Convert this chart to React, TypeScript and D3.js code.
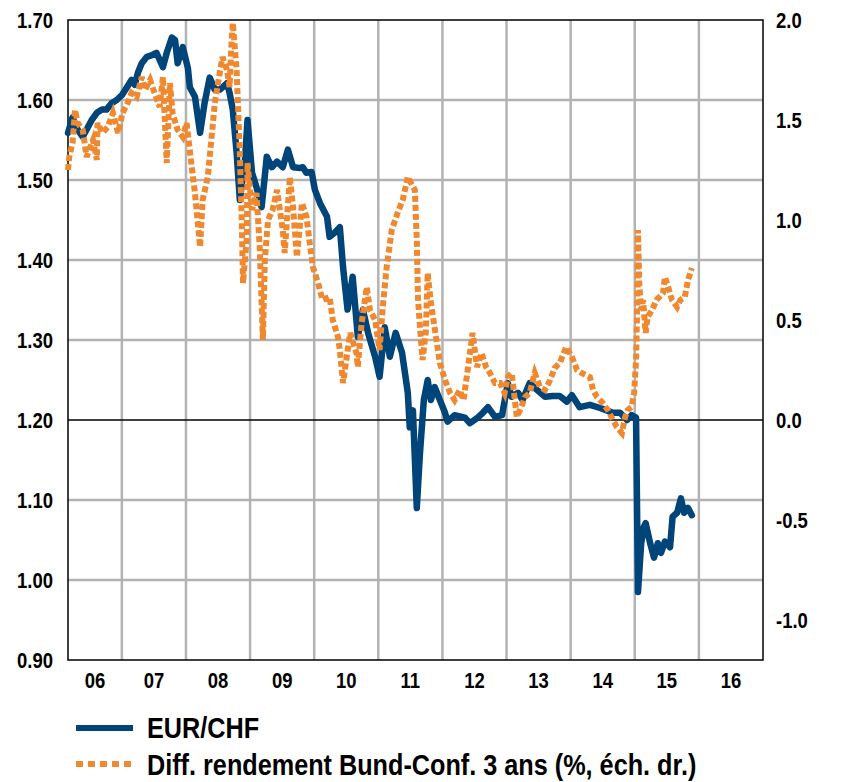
import * as d3 from 'd3';
import React, { useRef, useEffect } from 'react';

// EUR/CHF (left axis), time in decimal years
const chfTime = [2006.16, 2006.23, 2006.31, 2006.39, 2006.47, 2006.53, 2006.61, 2006.69, 2006.76, 2006.84, 2006.92, 2007.0, 2007.08, 2007.15, 2007.2, 2007.25, 2007.31, 2007.39, 2007.47, 2007.54, 2007.59, 2007.64, 2007.7, 2007.78, 2007.83, 2007.87, 2007.95, 2008.03, 2008.06, 2008.14, 2008.22, 2008.29, 2008.37, 2008.45, 2008.53, 2008.64, 2008.68, 2008.73, 2008.79, 2008.84, 2008.92, 2008.96, 2009.03, 2009.1, 2009.18, 2009.26, 2009.34, 2009.42, 2009.51, 2009.59, 2009.67, 2009.78, 2009.82, 2009.88, 2009.96, 2010.01, 2010.09, 2010.2, 2010.24, 2010.32, 2010.4, 2010.45, 2010.52, 2010.6, 2010.68, 2010.76, 2010.84, 2010.95, 2011.02, 2011.1, 2011.18, 2011.27, 2011.37, 2011.46, 2011.49, 2011.54, 2011.6, 2011.65, 2011.71, 2011.77, 2011.82, 2011.88, 2011.96, 2012.04, 2012.08, 2012.19, 2012.35, 2012.43, 2012.55, 2012.63, 2012.71, 2012.82, 2012.93, 2013.02, 2013.08, 2013.18, 2013.25, 2013.36, 2013.47, 2013.6, 2013.72, 2013.83, 2013.94, 2014.02, 2014.14, 2014.3, 2014.46, 2014.56, 2014.66, 2014.77, 2014.88, 2014.95, 2015.02, 2015.05, 2015.1, 2015.14, 2015.17, 2015.24, 2015.3, 2015.36, 2015.41, 2015.47, 2015.55, 2015.59, 2015.66, 2015.72, 2015.77, 2015.83, 2015.89];
const chfValue = [1.559, 1.578, 1.563, 1.554, 1.566, 1.575, 1.584, 1.588, 1.588, 1.596, 1.6, 1.606, 1.616, 1.625, 1.619, 1.634, 1.646, 1.654, 1.656, 1.659, 1.65, 1.641, 1.659, 1.678, 1.675, 1.646, 1.666, 1.64, 1.616, 1.604, 1.559, 1.596, 1.628, 1.613, 1.613, 1.621, 1.609, 1.588, 1.534, 1.475, 1.525, 1.575, 1.509, 1.491, 1.466, 1.529, 1.516, 1.523, 1.516, 1.538, 1.516, 1.515, 1.516, 1.509, 1.51, 1.488, 1.471, 1.454, 1.429, 1.434, 1.441, 1.391, 1.338, 1.379, 1.304, 1.338, 1.309, 1.279, 1.254, 1.316, 1.279, 1.309, 1.284, 1.234, 1.191, 1.212, 1.09, 1.159, 1.225, 1.25, 1.225, 1.241, 1.225, 1.209, 1.198, 1.206, 1.203, 1.196, 1.203, 1.209, 1.216, 1.204, 1.206, 1.246, 1.229, 1.234, 1.225, 1.246, 1.238, 1.229, 1.23, 1.23, 1.223, 1.231, 1.216, 1.219, 1.215, 1.212, 1.209, 1.209, 1.2, 1.206, 1.203, 0.985, 1.046, 1.066, 1.071, 1.046, 1.028, 1.046, 1.034, 1.048, 1.041, 1.079, 1.084, 1.102, 1.084, 1.09, 1.081];

// Bund - Confédération 3y yield spread (right axis)
const sprTime = [2006.16, 2006.18, 2006.23, 2006.27, 2006.31, 2006.39, 2006.45, 2006.55, 2006.61, 2006.62, 2006.7, 2006.78, 2006.86, 2006.94, 2007.01, 2007.09, 2007.15, 2007.23, 2007.31, 2007.36, 2007.44, 2007.51, 2007.59, 2007.64, 2007.7, 2007.75, 2007.79, 2007.87, 2007.95, 2008.01, 2008.09, 2008.14, 2008.17, 2008.22, 2008.26, 2008.34, 2008.4, 2008.45, 2008.5, 2008.57, 2008.64, 2008.68, 2008.71, 2008.73, 2008.79, 2008.81, 2008.84, 2008.87, 2008.89, 2008.95, 2008.96, 2009.03, 2009.1, 2009.15, 2009.2, 2009.23, 2009.28, 2009.35, 2009.42, 2009.51, 2009.54, 2009.62, 2009.67, 2009.73, 2009.81, 2009.88, 2009.93, 2009.98, 2010.06, 2010.13, 2010.24, 2010.29, 2010.37, 2010.4, 2010.45, 2010.56, 2010.66, 2010.68, 2010.74, 2010.82, 2010.87, 2010.95, 2011.02, 2011.07, 2011.13, 2011.21, 2011.3, 2011.38, 2011.46, 2011.57, 2011.6, 2011.62, 2011.65, 2011.69, 2011.74, 2011.77, 2011.82, 2011.9, 2011.96, 2012.04, 2012.12, 2012.19, 2012.27, 2012.33, 2012.4, 2012.47, 2012.54, 2012.61, 2012.68, 2012.74, 2012.82, 2012.9, 2012.97, 2013.02, 2013.08, 2013.16, 2013.21, 2013.29, 2013.36, 2013.44, 2013.52, 2013.6, 2013.68, 2013.75, 2013.83, 2013.93, 2014.02, 2014.1, 2014.17, 2014.3, 2014.35, 2014.41, 2014.5, 2014.58, 2014.66, 2014.72, 2014.8, 2014.85, 2014.89, 2014.95, 2014.99, 2015.02, 2015.04, 2015.05, 2015.07, 2015.1, 2015.13, 2015.17, 2015.2, 2015.27, 2015.34, 2015.44, 2015.47, 2015.52, 2015.58, 2015.66, 2015.71, 2015.78, 2015.83, 2015.89];
const sprValue = [1.25, 1.315, 1.385, 1.55, 1.485, 1.45, 1.315, 1.4, 1.3, 1.485, 1.435, 1.465, 1.535, 1.435, 1.535, 1.585, 1.635, 1.615, 1.715, 1.65, 1.7, 1.635, 1.565, 1.715, 1.285, 1.685, 1.535, 1.45, 1.415, 1.485, 1.265, 1.135, 1.035, 0.865, 1.1, 1.215, 1.415, 1.585, 1.685, 1.815, 1.75, 1.665, 1.885, 1.985, 1.75, 1.585, 1.335, 1.0, 0.685, 0.915, 1.285, 1.05, 1.135, 0.865, 0.4, 0.8, 1.0, 1.05, 1.15, 0.95, 0.835, 1.215, 1.065, 0.815, 1.085, 1.015, 0.885, 0.765, 0.685, 0.6, 0.615, 0.5, 0.415, 0.35, 0.185, 0.435, 0.335, 0.265, 0.485, 0.665, 0.55, 0.5, 0.35, 0.565, 0.765, 0.95, 1.035, 1.1, 1.215, 1.15, 0.9, 0.6, 0.465, 0.3, 0.435, 0.735, 0.585, 0.415, 0.285, 0.2, 0.135, 0.1, 0.15, 0.1, 0.265, 0.435, 0.265, 0.335, 0.265, 0.235, 0.185, 0.185, 0.135, 0.215, 0.235, 0.015, 0.05, 0.115, 0.135, 0.235, 0.165, 0.15, 0.2, 0.26, 0.285, 0.365, 0.315, 0.25, 0.235, 0.215, 0.15, 0.115, 0.085, 0.05, 0.0, -0.035, -0.065, 0.015, 0.05, 0.065, 0.135, 0.3, 0.6, 0.95, 0.685, 0.55, 0.6, 0.435, 0.515, 0.55, 0.6, 0.635, 0.715, 0.665, 0.6, 0.565, 0.6, 0.615, 0.7, 0.76];

const years = [2006, 2007, 2008, 2009, 2010, 2011, 2012, 2013, 2014, 2015, 2016];
const leftTicks = [0.9, 1.0, 1.1, 1.2, 1.3, 1.4, 1.5, 1.6, 1.7];
const rightTicks = [-1.0, -0.5, 0.0, 0.5, 1.0, 1.5, 2.0];
const legendLabels = ['EUR/CHF', 'Diff. rendement Bund-Conf. 3 ans (%, éch. dr.)'];

const BLUE = '#00457a';
const ORANGE = '#f0882f';
const FONT = "'Liberation Sans', Arial, sans-serif";

function Chart() {
  const ref = useRef(null);

  useEffect(() => {
    const svg = d3.select(ref.current);
    svg.selectAll('*').remove();

    const left = 68, right = 763, top = 20, bottom = 660;

    const x = d3.scaleLinear().domain([2006.16, 2017]).range([left, right]);
    const yL = d3.scaleLinear().domain([0.9, 1.7]).range([bottom, top]);
    const yR = d3.scaleLinear().domain([-1.2, 2.0]).range([bottom, top]);

    // grid
    const grid = svg.append('g').attr('stroke', '#b3b3b3').attr('stroke-width', 2.5);
    grid.selectAll('line.h')
      .data(leftTicks.filter(d => d > 0.9 && d < 1.7 && d !== 1.2))
      .enter().append('line')
      .attr('x1', left).attr('x2', right)
      .attr('y1', d => yL(d)).attr('y2', d => yL(d));
    grid.selectAll('line.v')
      .data(years.slice(1))
      .enter().append('line')
      .attr('x1', d => x(d)).attr('x2', d => x(d))
      .attr('y1', top).attr('y2', bottom);

    // frame + zero line
    svg.append('rect')
      .attr('x', left).attr('y', top)
      .attr('width', right - left).attr('height', bottom - top)
      .attr('fill', 'none').attr('stroke', '#000').attr('stroke-width', 1.5);
    svg.append('line')
      .attr('x1', left).attr('x2', right)
      .attr('y1', yR(0)).attr('y2', yR(0))
      .attr('stroke', '#000').attr('stroke-width', 1.5);

    // series
    const chfData = chfTime.map((t, i) => [t, chfValue[i]]);
    const sprData = sprTime.map((t, i) => [t, sprValue[i]]);

    const lineL = d3.line().x(d => x(d[0])).y(d => yL(d[1]));
    const lineR = d3.line().x(d => x(d[0])).y(d => yR(d[1]));

    svg.append('path')
      .datum(chfData)
      .attr('d', lineL)
      .attr('fill', 'none')
      .attr('stroke', BLUE)
      .attr('stroke-width', 6.5)
      .attr('stroke-linejoin', 'round')
      .attr('stroke-linecap', 'round');

    svg.append('path')
      .datum(sprData)
      .attr('d', lineR)
      .attr('fill', 'none')
      .attr('stroke', ORANGE)
      .attr('stroke-width', 6)
      .attr('stroke-dasharray', '6,3');

    // condensed bold labels (the original uses a narrow face)
    const label = (g, data, fx, fy, anchor, size, sx, fmt) =>
      g.selectAll('text')
        .data(data)
        .enter().append('text')
        .attr('transform', (d, i) => `translate(${fx(d, i)},${fy(d, i)}) scale(${sx},1)`)
        .attr('text-anchor', anchor)
        .attr('font-family', FONT).attr('font-weight', 'bold').attr('font-size', size)
        .text(fmt);

    label(svg.append('g'), leftTicks, () => 53, d => yL(d) + 8, 'end', 22, 0.84, d => d.toFixed(2));
    label(svg.append('g'), rightTicks, () => 776, d => yR(d) + 8, 'start', 22, 0.84, d => d.toFixed(1));
    label(svg.append('g'), years,
      d => (Math.max(x(d), left) + Math.min(x(d + 1), right)) / 2,
      () => 688, 'middle', 22, 0.84, d => String(d).slice(2));

    // legend
    const lg = svg.append('g');
    lg.append('line')
      .attr('x1', 76).attr('x2', 133).attr('y1', 728).attr('y2', 728)
      .attr('stroke', BLUE).attr('stroke-width', 6);
    lg.append('line')
      .attr('x1', 76).attr('x2', 133).attr('y1', 764).attr('y2', 764)
      .attr('stroke', ORANGE).attr('stroke-width', 6).attr('stroke-dasharray', '7,5');
    label(lg, legendLabels, () => 147, (d, i) => 738 + i * 37, 'start', 29, 0.87, d => d);
  });

  return <svg ref={ref} width={852} height={782} style={{ position: 'absolute', left: 0, top: 0, background: '#fff' }} />;
}

export default function App() {
  return <Chart />;
}
